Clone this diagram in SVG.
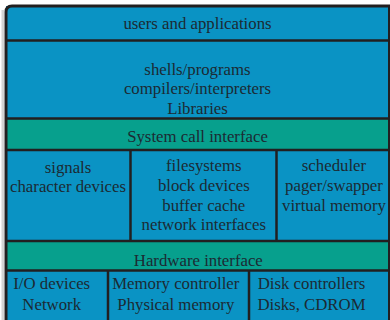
<svg xmlns="http://www.w3.org/2000/svg" width="390" height="320" viewBox="0 0 390 320">
<style>
.blue{fill:#0a93c4}
.green{fill:#07a08d}
.ln{stroke:#221f20;stroke-width:2.5;fill:none}
text{font-family:"Liberation Serif","Times New Roman",serif;font-size:16.8px;fill:#1c2a33;text-anchor:middle}
</style>
<rect x="0" y="0" width="390" height="320" fill="#ffffff"/>
<rect x="1.5" y="10" width="2.5" height="310" fill="#d4d4d4"/>
<g id="users"><rect class="blue" x="6" y="6" width="384" height="34.5"/><text x="197.5" y="29">users and applications</text></g>
<g id="shells"><rect class="blue" x="6" y="40.5" width="384" height="78"/><text x="197.5" y="74.5">shells/programs</text><text x="197.5" y="94">compilers/interpreters</text><text x="197.5" y="113.5">Libraries</text></g>
<g id="syscall"><rect class="green" x="6" y="118.5" width="384" height="31.5"/><text x="197.5" y="141.5">System call interface</text></g>
<g id="signals"><rect class="blue" x="6" y="150" width="124.5" height="91"/><text x="68" y="172.5">signals</text><text x="68" y="192.3">character devices</text></g>
<g id="filesystems"><rect class="blue" x="130.5" y="150" width="146" height="91"/><text x="203.8" y="171">filesystems</text><text x="203.8" y="190.8">block devices</text><text x="203.8" y="210.6">buffer cache</text><text x="203.8" y="230.4">network interfaces</text></g>
<g id="scheduler"><rect class="blue" x="276.5" y="150" width="113.5" height="91"/><text x="334" y="171">scheduler</text><text x="334" y="190.8">pager/swapper</text><text x="334" y="210.6">virtual memory</text></g>
<g id="hwif"><rect class="green" x="6" y="241" width="384" height="29.5"/><text x="198.3" y="266.3">Hardware interface</text></g>
<g id="io"><rect class="blue" x="6" y="270.5" width="102" height="49.5"/><text x="51.7" y="289.3">I/O devices</text><text x="51.7" y="310">Network</text></g>
<g id="memory"><rect class="blue" x="108" y="270.5" width="141" height="49.5"/><text x="175.8" y="289.3">Memory controller</text><text x="175.8" y="310">Physical memory</text></g>
<g id="disk"><rect class="blue" x="249" y="270.5" width="141" height="49.5"/><text x="311.5" y="289.3">Disk controllers</text><text x="311.5" y="310">Disks, CDROM</text></g>
<g id="connectors">
<line class="ln" x1="6" y1="40.5" x2="390" y2="40.5"/>
<line class="ln" x1="6" y1="118.5" x2="390" y2="118.5"/>
<line class="ln" x1="6" y1="150" x2="390" y2="150"/>
<line class="ln" x1="130.5" y1="150" x2="130.5" y2="241"/>
<line class="ln" x1="276.5" y1="150" x2="276.5" y2="241"/>
<line class="ln" x1="6" y1="241" x2="390" y2="241"/>
<line class="ln" x1="6" y1="270.5" x2="390" y2="270.5"/>
<line class="ln" x1="108" y1="270.5" x2="108" y2="320"/>
<line class="ln" x1="249" y1="270.5" x2="249" y2="320"/>
<path d="M6,322 V12 Q6,6 12,6 H389.5 V322" fill="none" stroke="#221f20" stroke-width="3"/>
</g>
</svg>
